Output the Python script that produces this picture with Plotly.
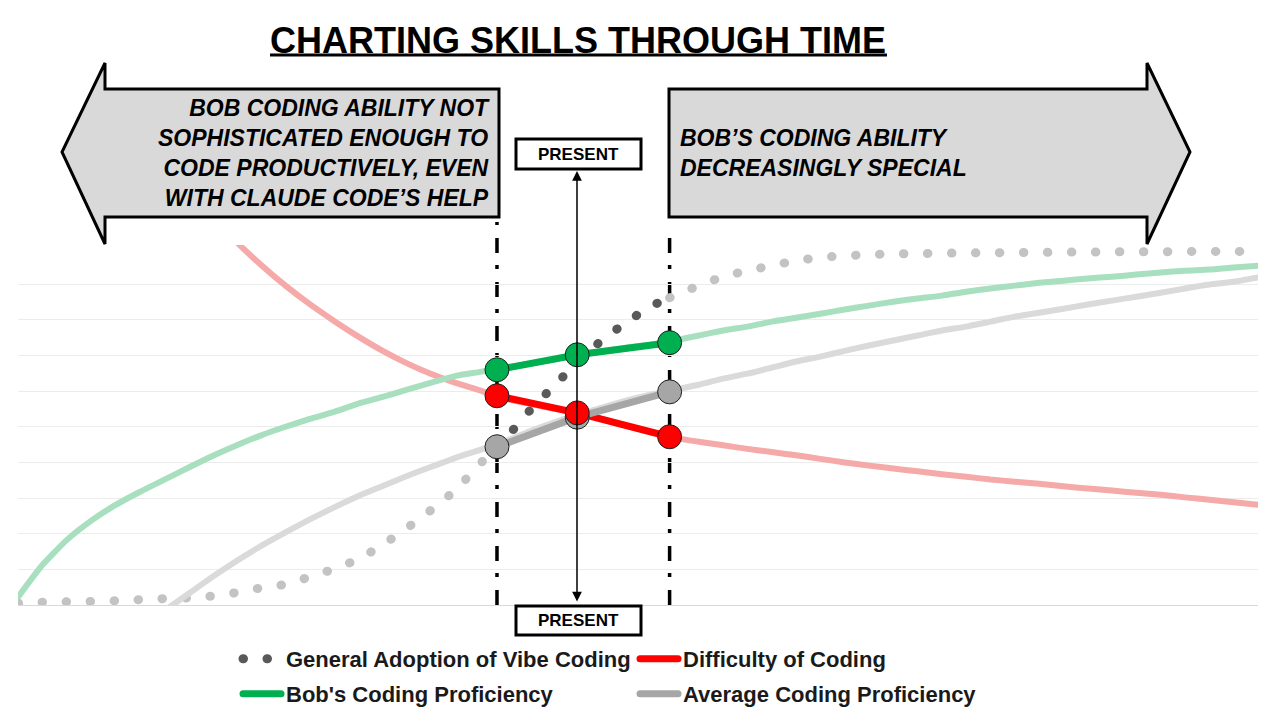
import plotly.graph_objects as go

# time steps along the x axis
x_idx = list(range(52))

# General Adoption of Vibe Coding (dotted S-curve)
adoption = [0.05, 0.08, 0.09, 0.10, 0.12, 0.15, 0.18, 0.20, 0.25, 0.35,
            0.48, 0.58, 0.79, 1.01, 1.29, 1.69, 2.16, 2.67, 3.23, 3.96,
            4.63, 5.42, 6.12, 6.80, 7.42, 7.92, 8.37, 8.68, 8.96, 9.21,
            9.38, 9.52, 9.66, 9.75, 9.80, 9.83, 9.85, 9.86, 9.87, 9.88,
            9.88, 9.89, 9.89, 9.90, 9.90, 9.91, 9.91, 9.91, 9.92, 9.92,
            9.92, 9.92]

# Difficulty of Coding
difficulty = [None] * 8 + [
    10.95, 10.18, 9.54, 8.96, 8.44, 7.97, 7.53, 7.13, 6.78, 6.48,
    6.23, 6.02, 5.79, 5.65, 5.51, 5.39, 5.22, 5.03, 4.86, 4.69,
    4.58, 4.48, 4.38, 4.29, 4.20, 4.10, 4.00, 3.91, 3.83, 3.75,
    3.67, 3.60, 3.52, 3.46, 3.40, 3.33, 3.27, 3.21, 3.15, 3.09,
    3.02, 2.95, 2.88, 2.81]

# Bob's Coding Proficiency
bob = [0.22, 1.12, 1.82, 2.36, 2.80, 3.17, 3.51, 3.85, 4.18, 4.48,
       4.76, 5.00, 5.22, 5.42, 5.65, 5.84, 6.04, 6.24, 6.43, 6.54,
       6.66, 6.77, 6.88, 7.02, 7.11, 7.22, 7.30, 7.42, 7.56, 7.70,
       7.81, 7.95, 8.06, 8.17, 8.29, 8.40, 8.51, 8.60, 8.68, 8.79,
       8.88, 8.96, 9.04, 9.10, 9.16, 9.21, 9.27, 9.33, 9.38, 9.41,
       9.47, 9.52]

# Average Coding Proficiency
average = [None] * 6 + [
    -0.17, 0.31, 0.79, 1.24, 1.66, 2.04, 2.40, 2.74, 3.06, 3.34,
    3.62, 3.88, 4.13, 4.35, 4.58, 4.86, 5.11, 5.34, 5.53, 5.73,
    5.90, 6.04, 6.18, 6.35, 6.49, 6.66, 6.83, 6.97, 7.13, 7.28,
    7.42, 7.56, 7.70, 7.81, 7.95, 8.09, 8.20, 8.31, 8.43, 8.54,
    8.65, 8.76, 8.88, 8.99, 9.07, 9.19]

# highlighted window (past edge, present, future edge)
highlight_x = [19.7, 23.0, 26.8]
bob_hl = [6.60, 7.02, 7.36]
difficulty_hl = [5.87, 5.39, 4.72]
average_hl = [4.44, 5.27, 5.98]
adoption_hl = [4.44, 6.80, 8.62]

FONT = "Liberation Sans, Arial, sans-serif"

# plot area in pixels: x 18..1258, y 245..605
L, R, T, B = 18, 1258, 245, 605


def pxx(x):
    return (x - L) / (R - L)


def pxy(y):
    return (B - y) / (B - T)


def poly(points):
    pts = ["%s%.5f,%.5f" % ("M" if i == 0 else "L", pxx(a), pxy(b))
           for i, (a, b) in enumerate(points)]
    return " ".join(pts) + " Z"


fig = go.Figure()

# dotted adoption curve: light before/after the window, dark inside it
left_x = [x for x in x_idx if x < highlight_x[0]] + [highlight_x[0]]
left_y = [adoption[x] for x in x_idx if x < highlight_x[0]] + [adoption_hl[0]]
mid_x = [highlight_x[0]] + [x for x in x_idx if highlight_x[0] < x < highlight_x[2]] + [highlight_x[2]]
mid_y = [adoption_hl[0]] + [adoption[x] for x in x_idx if highlight_x[0] < x < highlight_x[2]] + [adoption_hl[2]]
right_x = [highlight_x[2]] + [x for x in x_idx if x > highlight_x[2]]
right_y = [adoption_hl[2]] + [adoption[x] for x in x_idx if x > highlight_x[2]]

dots = "0.5px,23.5px"
fig.add_trace(go.Scatter(x=left_x, y=left_y, mode="lines", showlegend=False,
                         line=dict(color="#c3c3c3", width=9, dash=dots, shape="spline", smoothing=0.5)))
fig.add_trace(go.Scatter(x=right_x, y=right_y, mode="lines", showlegend=False,
                         line=dict(color="#c3c3c3", width=9, dash=dots, shape="spline", smoothing=0.5)))

# light full curves
fig.add_trace(go.Scatter(x=x_idx, y=average, mode="lines", showlegend=False,
                         line=dict(color="#dadada", width=6, shape="spline", smoothing=0.5)))
fig.add_trace(go.Scatter(x=x_idx, y=difficulty, mode="lines", showlegend=False,
                         line=dict(color="#f5a9a9", width=6, shape="spline", smoothing=0.5)))
fig.add_trace(go.Scatter(x=x_idx, y=bob, mode="lines", showlegend=False,
                         line=dict(color="#a8dfbf", width=6, shape="spline", smoothing=0.5)))

# dark window segments (these carry the legend)
fig.add_trace(go.Scatter(x=mid_x, y=mid_y, mode="lines", name="General Adoption of Vibe Coding",
                         legend="legend", line=dict(color="#595959", width=9, dash=dots,
                                                    shape="spline", smoothing=0.5)))
fig.add_trace(go.Scatter(x=highlight_x, y=difficulty_hl, mode="lines", name="Difficulty of Coding",
                         legend="legend", line=dict(color="#ff0000", width=7)))
fig.add_trace(go.Scatter(x=highlight_x, y=bob_hl, mode="lines", name="Bob's Coding Proficiency",
                         legend="legend2", line=dict(color="#00b050", width=7)))
fig.add_trace(go.Scatter(x=highlight_x, y=average_hl, mode="lines", name="Average Coding Proficiency",
                         legend="legend2", line=dict(color="#a6a6a6", width=7)))

# markers
for vals, col in [(average_hl, "#a6a6a6"), (difficulty_hl, "#ff0000"), (bob_hl, "#00b050")]:
    fig.add_trace(go.Scatter(x=highlight_x, y=vals, mode="markers", showlegend=False,
                             marker=dict(size=24, color=col, line=dict(color="#1f1f1f", width=1))))

edge_dash = "15px,13px,4px,12px"
shapes = [
    # left arrow
    dict(type="path", xref="paper", yref="paper",
         path=poly([(499, 89), (105, 89), (105, 63), (62, 152), (105, 244), (105, 217), (499, 217)]),
         fillcolor="#d9d9d9", line=dict(color="black", width=3)),
    # right arrow
    dict(type="path", xref="paper", yref="paper",
         path=poly([(669, 89), (1147, 89), (1147, 63), (1190, 152), (1147, 244), (1147, 217), (669, 217)]),
         fillcolor="#d9d9d9", line=dict(color="black", width=3)),
    # present boxes
    dict(type="rect", xref="paper", yref="paper", x0=pxx(516), x1=pxx(641), y0=pxy(169), y1=pxy(139),
         fillcolor="white", line=dict(color="black", width=3)),
    dict(type="rect", xref="paper", yref="paper", x0=pxx(516), x1=pxx(641), y0=pxy(635), y1=pxy(606),
         fillcolor="white", line=dict(color="black", width=3)),
    # window edges
    dict(type="line", xref="paper", yref="paper", layer="between",
         x0=highlight_x[0] / 51, x1=highlight_x[0] / 51, y0=0, y1=pxy(222),
         line=dict(color="black", width=3.5, dash=edge_dash)),
    dict(type="line", xref="paper", yref="paper", layer="between",
         x0=highlight_x[2] / 51, x1=highlight_x[2] / 51, y0=0, y1=pxy(232),
         line=dict(color="black", width=3.5, dash=edge_dash)),
    # title underline
    dict(type="line", xref="paper", yref="paper", x0=pxx(270), x1=pxx(887), y0=pxy(55), y1=pxy(55),
         line=dict(color="black", width=3)),
]

annotations = [
    dict(text="CHARTING SKILLS THROUGH TIME", xref="paper", yref="paper", x=pxx(578), y=pxy(40),
         showarrow=False, xanchor="center", yanchor="middle",
         font=dict(family=FONT, size=36, color="black", weight="bold")),
    dict(text="BOB CODING ABILITY NOT<br>SOPHISTICATED ENOUGH TO<br>CODE PRODUCTIVELY, EVEN<br>WITH CLAUDE CODE’S HELP",
         xref="paper", yref="paper", x=pxx(492), y=pxy(153), showarrow=False,
         xanchor="right", yanchor="middle", align="right",
         font=dict(family=FONT, size=23, color="black", weight="bold", style="italic")),
    dict(text="BOB’S CODING ABILITY<br>DECREASINGLY SPECIAL",
         xref="paper", yref="paper", x=pxx(678), y=pxy(153), showarrow=False,
         xanchor="left", yanchor="middle", align="left",
         font=dict(family=FONT, size=23, color="black", weight="bold", style="italic")),
    dict(text="PRESENT", xref="paper", yref="paper", x=pxx(578.5), y=pxy(154), showarrow=False,
         xanchor="center", yanchor="middle",
         font=dict(family=FONT, size=17, color="black", weight="bold")),
    dict(text="PRESENT", xref="paper", yref="paper", x=pxx(578.5), y=pxy(620.5), showarrow=False,
         xanchor="center", yanchor="middle",
         font=dict(family=FONT, size=17, color="black", weight="bold")),
    dict(text="", xref="paper", yref="paper", x=pxx(577), y=pxy(171), ax=0, ay=432,
         showarrow=True, arrowside="end+start", arrowhead=2, arrowsize=1.3,
         arrowwidth=1.5, arrowcolor="black"),
]

legend_style = dict(orientation="h", xanchor="left", yanchor="top", x=pxx(238),
                    entrywidth=344, entrywidthmode="pixels", itemwidth=38,
                    bgcolor="rgba(0,0,0,0)", itemclick=False, itemdoubleclick=False,
                    font=dict(family=FONT, size=22, color="#1a1a1a", weight="bold"))

fig.update_layout(
    width=1280, height=720,
    margin=dict(l=L, r=1280 - R, t=T, b=720 - B, autoexpand=False),
    plot_bgcolor="white", paper_bgcolor="white",
    showlegend=True,
    legend=dict(legend_style, y=pxy(638)),
    legend2=dict(legend_style, y=pxy(673)),
    shapes=shapes, annotations=annotations,
    xaxis=dict(range=[0, 51], showgrid=False, showticklabels=False, zeroline=False,
               showline=True, linecolor="#d9d9d9", linewidth=1, ticks=""),
    yaxis=dict(range=[0, 10.1], tickvals=list(range(10)), showticklabels=False,
               gridcolor="#ececec", gridwidth=1, zeroline=False, showline=False, ticks=""),
)

round_caps = ("document.body.style.margin='0';"
              "var s=document.createElement('style');"
              "s.innerHTML='.js-line{stroke-linecap:round !important;}';"
              "document.head.appendChild(s);")

fig.write_html("out.html", post_script=round_caps, config={"displayModeBar": False})
